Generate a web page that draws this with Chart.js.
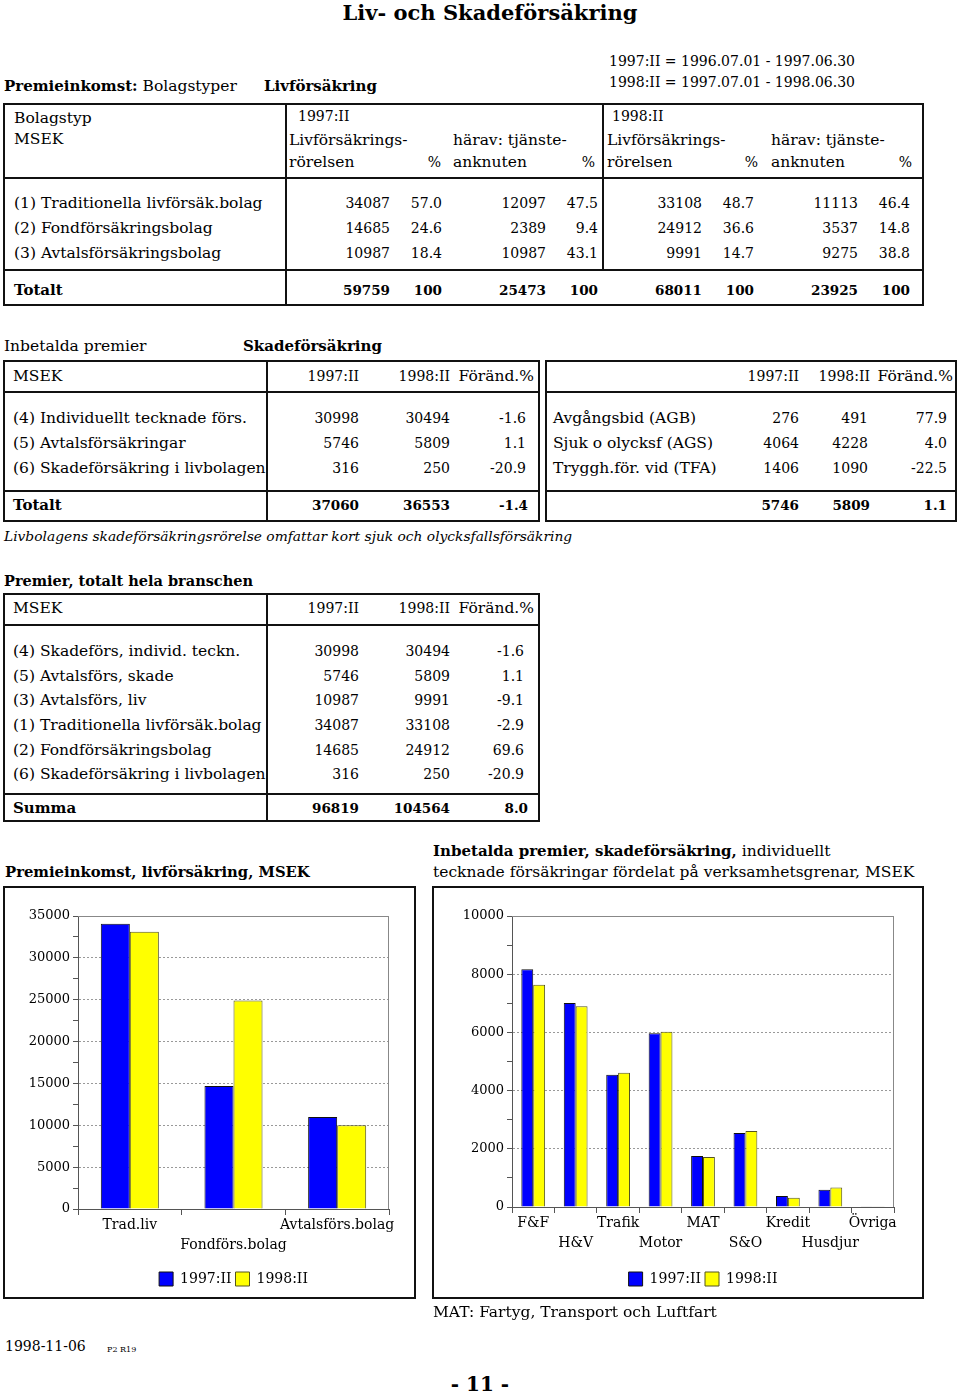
<!DOCTYPE html>
<html><head><meta charset="utf-8">
<script src="https://cdn.jsdelivr.net/npm/chart.js@4.4.0/dist/chart.umd.min.js"></script>
<style>
body{margin:0;background:#fff;}
#page{position:relative;width:960px;height:1394px;font-family:'DejaVu Serif',serif;font-size:15.5px;color:#000;overflow:hidden}
.t{position:absolute;white-space:nowrap;line-height:20px;height:20px}
.bx{position:absolute;border:2px solid #111;box-sizing:border-box}
.ln{position:absolute;background:#111}
canvas{position:absolute}
</style></head><body><div id="page">
<canvas id="livChart" width="407" height="407" style="left:6px;top:889px;width:407px;height:407px"></canvas>
<canvas id="skadeChart" width="486" height="407" style="left:435px;top:889px;width:486px;height:407px"></canvas>
</div><script>
// Livförsäkring: bolagstyper
var bolagstyper = ['(1) Traditionella livförsäk.bolag', '(2) Fondförsäkringsbolag', '(3) Avtalsförsäkringsbolag'];
var liv97 = [34087, 14685, 10987];
var liv97pct = ['57.0', '24.6', '18.4'];
var tj97 = [12097, 2389, 10987];
var tj97pct = ['47.5', '9.4', '43.1'];
var liv98 = [33108, 24912, 9991];
var liv98pct = ['48.7', '36.6', '14.7'];
var tj98 = [11113, 3537, 9275];
var tj98pct = ['46.4', '14.8', '38.8'];
var totalt1 = [59759, 100, 25473, 100, 68011, 100, 23925, 100];

// Skadeförsäkring
var skadeRader = ['(4) Individuellt tecknade förs.', '(5) Avtalsförsäkringar', '(6) Skadeförsäkring i livbolagen'];
var skade97 = [30998, 5746, 316];
var skade98 = [30494, 5809, 250];
var skadeFor = ['-1.6', '1.1', '-20.9'];
var skadeTot = [37060, 36553, '-1.4'];
var avtalRader = ['Avgångsbid (AGB)', 'Sjuk o olycksf (AGS)', 'Tryggh.för. vid (TFA)'];
var avtal97 = [276, 4064, 1406];
var avtal98 = [491, 4228, 1090];
var avtalFor = ['77.9', '4.0', '-22.5'];
var avtalTot = [5746, 5809, '1.1'];

// Premier, totalt hela branschen
var premRader = ['(4) Skadeförs, individ.  teckn.', '(5) Avtalsförs, skade', '(3) Avtalsförs, liv',
  '(1) Traditionella livförsäk.bolag', '(2) Fondförsäkringsbolag', '(6) Skadeförsäkring i livbolagen'];
var prem97 = [30998, 5746, 10987, 34087, 14685, 316];
var prem98 = [30494, 5809, 9991, 33108, 24912, 250];
var premFor = ['-1.6', '1.1', '-9.1', '-2.9', '69.6', '-20.9'];
var premSumma = [96819, 104564, '8.0'];

// diagram
var livKategorier = ['Trad.liv', 'Fondförs.bolag', 'Avtalsförs.bolag'];
var grenar = ['F&F', 'H&V', 'Trafik', 'Motor', 'MAT', 'S&O', 'Kredit', 'Husdjur', 'Övriga'];
var gren97 = [8170, 7010, 4545, 5970, 1750, 2540, 380, 590, 10];
var gren98 = [7640, 6900, 4610, 6020, 1720, 2610, 320, 670, 10];
var serier = ['1997:II', '1998:II'];

var page = document.getElementById('page');

function t(x, y, s, o) {
  o = o || {};
  var d = document.createElement('div');
  d.className = 't';
  if (o.html) d.innerHTML = s; else d.textContent = s;
  var a = o.align || 'left';
  if (a == 'left') d.style.left = x + 'px';
  else if (a == 'right') { d.style.left = (x - 600) + 'px'; d.style.width = '600px'; d.style.textAlign = 'right'; }
  else { d.style.left = (x - 600) + 'px'; d.style.width = '1200px'; d.style.textAlign = 'center'; }
  d.style.top = (y - 10) + 'px';
  if (o.b) d.style.fontWeight = 'bold';
  if (o.i) d.style.fontStyle = 'italic';
  if (o.size) d.style.fontSize = o.size + 'px';
  else if (o.b) d.style.fontSize = '15px';
  page.appendChild(d);
}
// siffror: smalare storlek, högerställda
function n(x, y, v, b) { t(x, y, v, {align: 'right', b: b, size: b ? 13.5 : 14}); }
function box(x1, y1, x2, y2) {
  var d = document.createElement('div');
  d.className = 'bx';
  d.style.left = (x1 - 1) + 'px'; d.style.top = (y1 - 1) + 'px';
  d.style.width = (x2 - x1 + 2) + 'px'; d.style.height = (y2 - y1 + 2) + 'px';
  page.appendChild(d);
}
function line(x, y, w, h) {
  var d = document.createElement('div');
  d.className = 'ln';
  d.style.left = x + 'px'; d.style.top = y + 'px';
  d.style.width = w + 'px'; d.style.height = h + 'px';
  page.appendChild(d);
}
function hl(x1, x2, y) { line(x1, y - 1, x2 - x1, 2); }
function vl(x, y1, y2) { line(x - 1, y1, 2, y2 - y1); }

// rubriker
t(490, 13, 'Liv- och Skadeförsäkring', {align: 'center', b: 1, size: 21});
t(609, 61, '1997:II = 1996.07.01 - 1997.06.30', {size: 14});
t(609, 82, '1998:II = 1997.07.01 - 1998.06.30', {size: 14});
t(4, 86, '<b style="font-size:15px">Premieinkomst:</b> Bolagstyper', {html: 1});
t(264, 86, 'Livförsäkring', {b: 1});

// tabell 1
box(4, 104, 923, 305);
vl(286, 104, 305); vl(603, 104, 270);
hl(4, 923, 178); hl(4, 923, 270);
t(14, 118, 'Bolagstyp'); t(14, 139, 'MSEK');
t(298, 116, '1997:II', {size: 14}); t(612, 116, '1998:II', {size: 14});
[289, 607].forEach(function (x) {
  t(x, 140, 'Livförsäkrings-'); t(x, 162, 'rörelsen');
  t(x + 164, 140, 'härav: tjänste-'); t(x + 164, 162, 'anknuten');
});
[441, 595, 758, 912].forEach(function (x) { t(x, 162, '%', {align: 'right', size: 14}); });
var cols1 = [390, 442, 546, 598, 702, 754, 858, 910];
var rader1 = [203, 228, 253];
var kol1 = [liv97, liv97pct, tj97, tj97pct, liv98, liv98pct, tj98, tj98pct];
bolagstyper.forEach(function (lab, i) {
  t(14, rader1[i], lab);
  kol1.forEach(function (arr, j) { n(cols1[j], rader1[i], arr[i]); });
});
t(14, 290, 'Totalt', {b: 1});
totalt1.forEach(function (v, j) { n(cols1[j], 290, v, 1); });

// tabell 2
t(4, 346, 'Inbetalda premier'); t(243, 346, 'Skadeförsäkring', {b: 1});
box(4, 361, 539, 521); vl(267, 361, 521);
hl(4, 539, 392); hl(4, 539, 491);
box(546, 361, 956, 521);
hl(546, 956, 392); hl(546, 956, 491);
t(13, 376, 'MSEK');
[[359, 450, 534], [799, 870, 953]].forEach(function (c) {
  t(c[0], 376, '1997:II', {align: 'right', size: 14}); t(c[1], 376, '1998:II', {align: 'right', size: 14});
  t(c[2], 376, 'Föränd.%', {align: 'right'});
});
var rader2 = [418, 443, 468];
skadeRader.forEach(function (lab, i) {
  t(13, rader2[i], lab);
  n(359, rader2[i], skade97[i]); n(450, rader2[i], skade98[i]); n(526, rader2[i], skadeFor[i]);
  t(553, rader2[i], avtalRader[i]);
  n(799, rader2[i], avtal97[i]); n(868, rader2[i], avtal98[i]); n(947, rader2[i], avtalFor[i]);
});
t(13, 505, 'Totalt', {b: 1});
n(359, 505, skadeTot[0], 1); n(450, 505, skadeTot[1], 1); n(528, 505, skadeTot[2], 1);
n(799, 505, avtalTot[0], 1); n(870, 505, avtalTot[1], 1); n(947, 505, avtalTot[2], 1);
t(4, 536, 'Livbolagens skadeförsäkringsrörelse omfattar kort sjuk och olycksfallsförsäkring', {i: 1, size: 13.8});

// tabell 3
t(4, 581, 'Premier, totalt hela branschen', {b: 1, size: 14.5});
box(4, 594, 539, 821); vl(267, 594, 821);
hl(4, 539, 625); hl(4, 539, 794);
t(13, 608, 'MSEK');
t(359, 608, '1997:II', {align: 'right', size: 14}); t(450, 608, '1998:II', {align: 'right', size: 14});
t(534, 608, 'Föränd.%', {align: 'right'});
var rader3 = [651, 676, 700, 725, 750, 774];
premRader.forEach(function (lab, i) {
  t(13, rader3[i], lab);
  n(359, rader3[i], prem97[i]); n(450, rader3[i], prem98[i]); n(524, rader3[i], premFor[i]);
});
t(13, 808, 'Summa', {b: 1});
n(359, 808, premSumma[0], 1); n(450, 808, premSumma[1], 1); n(528, 808, premSumma[2], 1);

// diagramrubriker och ramar
t(5, 872, 'Premieinkomst, livförsäkring, MSEK', {b: 1, size: 14.8});
t(433, 851, '<b style="font-size:15px">Inbetalda premier, skadeförsäkring,</b> individuellt', {html: 1});
t(433, 872, 'tecknade försäkringar fördelat på verksamhetsgrenar, MSEK');
box(4, 887, 415, 1298);
box(433, 887, 923, 1298);
t(433, 1312, 'MAT: Fartyg, Transport och Luftfart');
t(5, 1346, '1998-11-06', {size: 14});
t(107, 1350, 'P2 R19', {size: 8});
t(480, 1384, '- 11 -', {align: 'center', b: 1, size: 20});

// diagram
Chart.defaults.font.family = "'DejaVu Serif', serif";
Chart.defaults.font.size = 14;
Chart.defaults.color = '#000';

var ram = {
  id: 'ram',
  afterDraw: function (chart) {
    var a = chart.chartArea, ctx = chart.ctx;
    ctx.save();
    ctx.strokeStyle = '#888';
    ctx.lineWidth = 1;
    ctx.beginPath();
    ctx.moveTo(a.left, a.top + 0.5);
    ctx.lineTo(a.right - 0.5, a.top + 0.5);
    ctx.lineTo(a.right - 0.5, a.bottom);
    ctx.stroke();
    ctx.restore();
  }
};

function stapel(id, labels, a, b, max, minor, major, yBredd, xHojd, hoger) {
  return new Chart(document.getElementById(id), {
    type: 'bar',
    data: {
      labels: labels,
      datasets: [
        {label: serier[0], data: a, backgroundColor: '#0000ff', borderColor: '#111', borderWidth: 1},
        {label: serier[1], data: b, backgroundColor: '#ffff00', borderColor: '#555520', borderWidth: 1}
      ]
    },
    options: {
      responsive: false,
      animation: false,
      categoryPercentage: 0.56,
      barPercentage: 1,
      layout: {padding: {top: 27, right: hoger, bottom: 0, left: 0}},
      plugins: {
        legend: {position: 'bottom', fullSize: false,
          labels: {boxWidth: 14, boxHeight: 14, padding: 4, color: '#000', font: {size: 14}}},
        tooltip: {enabled: false}
      },
      scales: {
        x: {
          grid: {drawOnChartArea: false, tickLength: 6, color: '#555', offset: true},
          border: {color: '#555'},
          ticks: {autoSkip: false, maxRotation: 0, padding: 0, font: {size: 14, lineHeight: 1.45},
            callback: function (v, i) { var l = this.getLabelForValue(v); return i % 2 ? ['', l] : l; }},
          afterFit: function (s) { s.height = xHojd; }
        },
        y: {
          min: 0, max: max,
          ticks: {stepSize: minor, autoSkip: false, padding: 3, font: {size: 13},
            callback: function (v) { return v % major === 0 ? v : ''; }},
          grid: {
            color: function (c) { return c.tick && c.tick.value > 0 && c.tick.value % major === 0 ? '#999' : 'rgba(0,0,0,0)'; },
            tickColor: '#555', tickLength: 5
          },
          border: {color: '#555', dash: [2, 2]},
          afterFit: function (s) { s.width = yBredd; }
        }
      }
    },
    plugins: [ram]
  });
}

stapel('livChart', livKategorier, liv97, liv98, 35000, 2500, 5000, 72, 59, 24);
stapel('skadeChart', grenar, gren97, gren98, 10000, 1000, 2000, 77, 61, 27);
</script></body></html>
